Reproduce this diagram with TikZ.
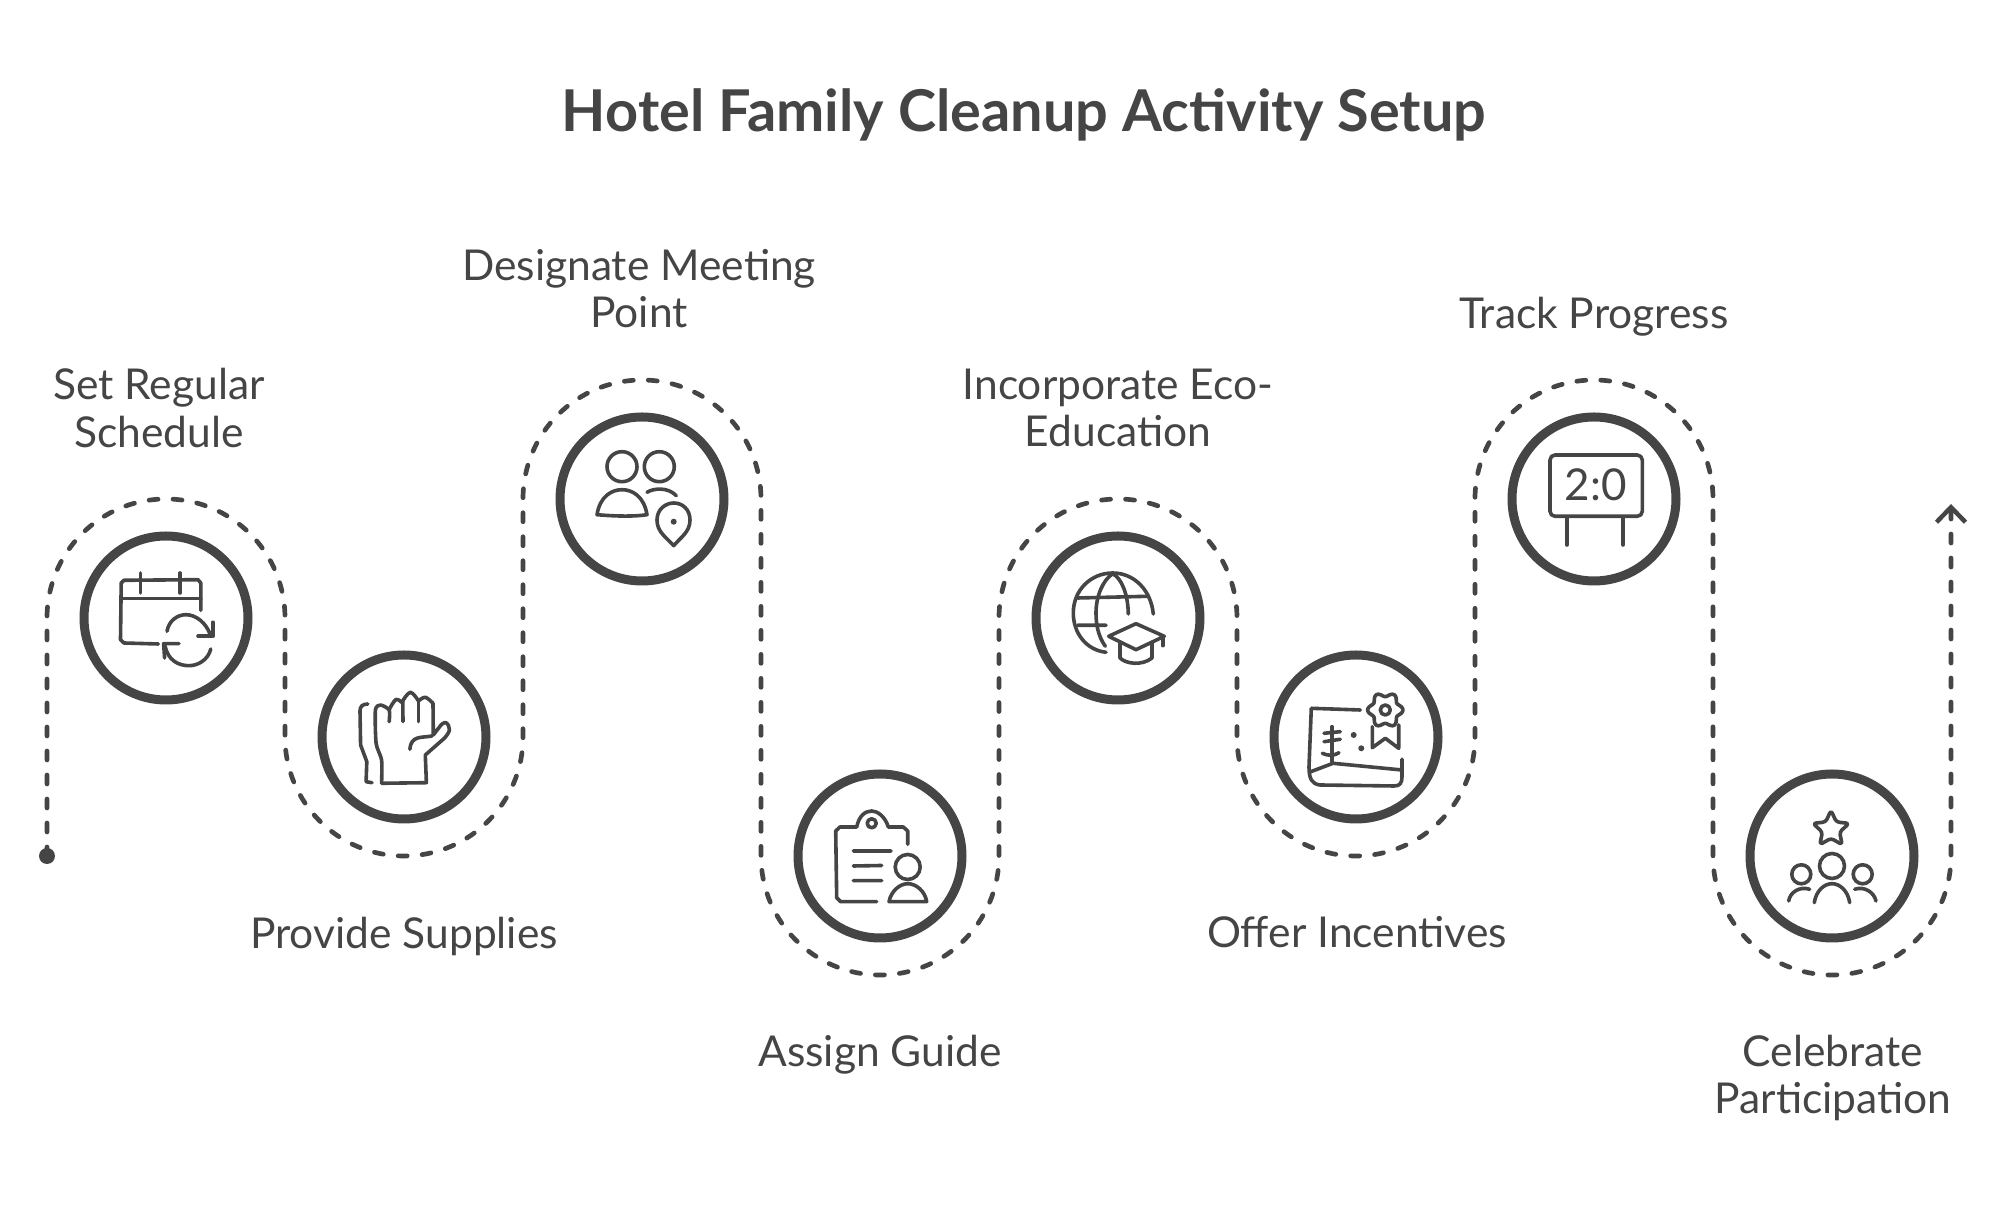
\documentclass[tikz,border=0pt]{standalone}
\usepackage{fontspec}
\setmainfont{Lato}
\usepackage{xcolor}
\usetikzlibrary{arrows.meta,calc}
\definecolor{ink}{HTML}{454545}

\begin{document}
\begin{tikzpicture}[x=.1mm,y=.1mm,
  ring/.style={draw=ink,circle,line width=.9mm,minimum size=16.4mm,inner sep=0pt},
  lab/.style={text=ink,align=center,inner sep=0pt,font=\fontsize{12.1}{13.4}\selectfont},
  headline/.style={text=ink,inner sep=0pt,font=\fontsize{16.4}{19}\selectfont\bfseries},
  trail/.style={draw=ink,line width=.47mm,line cap=round,dash pattern=on .9mm off 1.5mm},
  icon/.style={draw=ink,line width=.36mm,line cap=round,line join=round},
  dotmark/.style={fill=ink,draw=none,circle,minimum size=1.6mm,inner sep=0pt}]
\useasboundingbox (0,0) rectangle (2000,1214);
\node[headline] (title) at (1024,1099) {Hotel Family Cleanup Activity Setup};
% steps
\node[ring] (sched)  at (166,596)  {};
\node[ring] (supply) at (404,477)  {};
\node[ring] (meet)   at (642,715)  {};
\node[ring] (guide)  at (880,358)  {};
\node[ring] (edu)    at (1118,596) {};
\node[ring] (reward) at (1356,477) {};
\node[ring] (track)  at (1594,715) {};
\node[ring] (party)  at (1832,358) {};
% labels
\node[lab] (l1) at (159,806)  {Set Regular\\Schedule};
\node[lab] (l2) at (404,278)  {Provide Supplies};
\node[lab] (l3) at (639,925)  {Designate Meeting\\Point};
\node[lab] (l4) at (880,159)  {Assign Guide};
\node[lab] (l5) at (1118,806) {Incorporate Eco-\\Education};
\node[lab] (l6) at (1357,282) {Offer Incentives};
\node[lab] (l7) at (1594,897) {Track Progress};
\node[lab] (l8) at (1833,136) {Celebrate\\Participation};
% dashed trail
\node[dotmark] (start) at (47,358) {};
\coordinate (finish) at (1951,710);
\draw[trail] (start.center) -- ($(sched.center)+(-119,0)$) arc[start angle=180,end angle=0,radius=11.9mm]
  -- ($(supply.center)+(-119,0)$) arc[start angle=180,end angle=360,radius=11.9mm]
  -- ($(meet.center)+(-119,0)$) arc[start angle=180,end angle=0,radius=11.9mm]
  -- ($(guide.center)+(-119,0)$) arc[start angle=180,end angle=360,radius=11.9mm]
  -- ($(edu.center)+(-119,0)$) arc[start angle=180,end angle=0,radius=11.9mm]
  -- ($(reward.center)+(-119,0)$) arc[start angle=180,end angle=360,radius=11.9mm]
  -- ($(track.center)+(-119,0)$) arc[start angle=180,end angle=0,radius=11.9mm]
  -- ($(party.center)+(-119,0)$) arc[start angle=180,end angle=360,radius=11.9mm]
  -- (finish);
\draw[icon,line width=.45mm,-{Straight Barb[length=1.5mm,width=2.9mm]}] ($(finish)+(0,-14)$) -- (finish);
% calendar
\begin{scope}[shift={(sched.center)},y=-.1mm]
\draw[icon] (-7.6,26) -- (-42,25) -- (-45.5,21.7) -- (-44.8,-35) -- (-42,-37.7) -- (32,-38.3) -- (34.8,-35) -- (34.8,-7.7);
\draw[icon] (-43.7,-19.3) -- (34.8,-19.3);
\draw[icon] (-25.5,-45) -- (-25.5,-25) (14,-45) -- (14,-25);
\draw[icon] (1,13.3) .. controls (3,2) and (12,-3.3) .. (20,-3.3) .. controls (30,-3.3) and (40,5) .. (44,16);
\draw[icon] (46.8,4.3) -- (46.8,18.3) -- (32,18.3);
\draw[icon] (44.8,31) .. controls (42,42) and (32,47.7) .. (23,47.7) .. controls (12,47.7) and (2,42) .. (-1,28);
\draw[icon] (-1.4,40) -- (-2.4,25.7) -- (13,25.7);
\end{scope}
% glove
\begin{scope}[shift={(supply.center)},y=-.1mm]
\draw[icon] plot[smooth,tension=.4] coordinates {(-22.4,46.3) (-22.4,23) (-27.9,6.3) (-28.6,-27) (-23.4,-32) (-14.8,-27) (-14.8,-15.3)};
\draw[icon] plot[smooth,tension=.6] coordinates {(-14.5,-28) (-8,-37.5) (-1.7,-34)};
\draw[icon] (-1.2,-36) -- (-1,-15.3);
\draw[icon] plot[smooth,tension=.6] coordinates {(-1.4,-36) (6.5,-44.7) (14.5,-36)};
\draw[icon] (14.5,-36) -- (14.5,-15.3);
\draw[icon] plot[smooth,tension=.6] coordinates {(14.5,-36) (21.3,-39.7) (29,-33.7)};
\draw[icon] (29,-33.7) -- (29.3,-2) -- (37,-12);
\draw[icon] plot[smooth,tension=.7] coordinates {(37,-12) (42,-14.3) (45.5,-7) (40.3,1.3)};
\draw[icon] (40.3,1.3) -- (21.3,18) -- (22.4,45.7) -- (-22.4,46.3);
\draw[icon] (28,-1) .. controls (18,1) and (7,-2) .. (5.9,12.3);
\draw[icon] (-36.2,-33) .. controls (-42,-33) and (-44,-30) .. (-44,-26) -- (-43.4,8) -- (-37.2,24.7) -- (-37.9,44.7) -- (-32,45.7);
\end{scope}
% people and pin
\begin{scope}[shift={(meet.center)},y=-.1mm]
\draw[icon] (-20,-32.3) circle[radius=15];
\draw[icon] (17.3,-32.3) circle[radius=15];
\draw[icon] (-45,15.7) .. controls (-42,-3) and (-30,-9.3) .. (-20,-9.3) .. controls (-10,-9.3) and (2,-3) .. (5,15.7) .. controls (-10,18) and (-30,17) .. cycle;
\draw[icon] (5,-6.7) .. controls (12,-11) and (26,-12) .. (34.3,-3.3);
\draw[icon] (31.7,46.7) .. controls (24,38) and (15,33) .. (15,21) .. controls (15,10) and (24,4) .. (31.7,4) .. controls (40,4) and (48,10) .. (48,21) .. controls (48,33) and (39,38) .. cycle;
\fill[ink] (31.7,22.7) circle[radius=3];
\end{scope}
% clipboard and person
\begin{scope}[shift={(guide.center)},y=-.1mm]
\draw[icon] (27.7,-11.7) -- (27.7,-25) -- (23.3,-29) -- (8.3,-29) .. controls (5,-40) and (-3,-45) .. (-8.3,-45) .. controls (-15,-45) and (-21,-40) .. (-23.3,-29) -- (-40,-29) -- (-44.3,-25) -- (-43.3,41.7) -- (-39.3,45.7) -- (-3.3,45.7);
\draw[icon] (-8.3,-32.7) circle[radius=4.5];
\draw[icon] (-26.7,-5) -- (11,-5) (-26.7,10) -- (1.7,9.5) (-26.7,24.7) -- (1.7,24.7);
\draw[icon] (27.7,11) circle[radius=12.5];
\draw[icon] (9,45.7) .. controls (11,35) and (20,27.7) .. (27.7,27.7) .. controls (36,27.7) and (45,35) .. (46.7,45.7) -- cycle;
\end{scope}
% globe and cap
\begin{scope}[shift={(edu.center)},y=-.1mm]
\draw[icon] (-12,34.3) .. controls (-32,32) and (-44.7,15) .. (-44.7,-5) .. controls (-44.7,-28) and (-27,-45) .. (-5.3,-45) .. controls (16,-45) and (33,-28) .. (35.3,-4);
\draw[icon] (-12.7,28.3) .. controls (-20,18) and (-22,6) .. (-22,-5) .. controls (-22,-22) and (-15,-38) .. (-5.3,-44.3) .. controls (3,-40) and (10,-25) .. (10.3,-4);
\draw[icon] (-40.3,-20) -- (29.7,-21.7) (-40.3,7.3) -- (-12,7.3);
\draw[icon] (-9.3,18.3) -- (18,5.7) -- (46.3,18.3) -- (18,31.7) -- cycle;
\draw[icon] (44.7,18.3) -- (44.7,27.7);
\draw[icon] (2,25) -- (2,40) .. controls (8,46) and (24,48) .. (34,40) -- (34,25);
\end{scope}
% picture and rosette
\begin{scope}[shift={(reward.center)},y=-.1mm]
\draw[icon] (4.3,-27) -- (-44.7,-28.7) -- (-47,30) .. controls (-47,42) and (-44,47) .. (-36,48) -- (38,49) .. controls (44,49) and (46,46) .. (46,40) -- (46,22.3);
\draw[icon] (-46,35) -- (-23,26.3) -- (46,33);
\draw[icon] (-24,-10.3) -- (-24,26.3);
\draw[icon] (-32,-3.7) -- (-15.7,-5.3) (-32,4.7) -- (-15.7,2.3);
\draw[icon] (-33.7,16.3) .. controls (-28,19) and (-22,19) .. (-17,15.7);
\fill[ink] (-2.3,-2) circle[radius=3] (5.3,11.3) circle[radius=3];
\draw[icon] plot[domain=0:360,samples=61,smooth cycle] ({29.3+(15.5+2.2*cos(6*\x))*cos(\x)},{-27+(15.5+2.2*cos(6*\x))*sin(\x)});
\draw[icon] (29.3,-27) circle[radius=5];
\draw[icon] (16.3,-10.3) -- (16.3,10.7) -- (29.3,1.3) -- (42.7,11.3) -- (42.7,-12);
\end{scope}
% scoreboard
\begin{scope}[shift={(track.center)},y=-.1mm]
\draw[icon,rounded corners=.5mm] (-44,-44) -- (48.3,-44) -- (48.3,17.3) -- (-44,17.3) -- cycle;
\node[text=ink,inner sep=0pt,font=\fontsize{12.5}{14}\selectfont] (score) at (1.7,-14) {2:0};
\draw[icon] (-27.3,18.3) -- (-27.3,46) (29,18.3) -- (29,46);
\end{scope}
% star and crowd
\begin{scope}[shift={(party.center)},y=-.1mm]
\draw[icon,rounded corners=.3mm] (-1,-45.7) -- (4.3,-34) -- (17.1,-32.6) -- (7.6,-23.9) -- (10.2,-11.3) -- (-1,-17.7) -- (-12.2,-11.3) -- (-9.6,-23.9) -- (-19.1,-32.6) -- (-6.3,-34) -- cycle;
\draw[icon] (0,10) circle[radius=12.5];
\draw[icon] (-17.7,46.7) .. controls (-16,35) and (-8,27.7) .. (0,27.7) .. controls (8,27.7) and (16,35) .. (17.7,46.7);
\draw[icon] (-30.7,18.3) circle[radius=9.5];
\draw[icon] (-43.3,45) .. controls (-42,36) and (-32,30) .. (-22.3,33.3);
\draw[icon] (30.7,18.3) circle[radius=9.5];
\draw[icon] (22.7,33.3) .. controls (32,30) and (42,36) .. (44,45);
\end{scope}
\end{tikzpicture}
\end{document}
